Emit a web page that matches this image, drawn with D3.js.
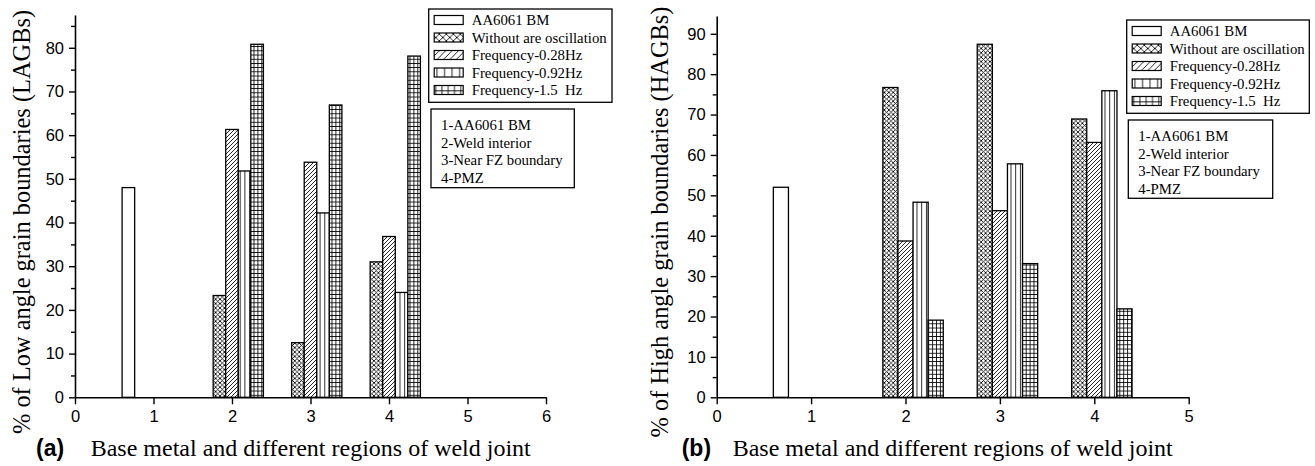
<!DOCTYPE html>
<html>
<head>
<meta charset="utf-8">
<script src="https://cdn.jsdelivr.net/npm/d3@7"></script>
<style>
  body { margin: 0; background: #fff; }
  svg { display: block; }
  .serif { font-family: "Liberation Serif", "Times New Roman", serif; }
  .sans { font-family: "Liberation Sans", Arial, sans-serif; }
</style>
</head>
<body>
<svg id="chart" width="1315" height="466"></svg>
<script>
// categories on the x axis and the five bar series
const REGIONS = [1, 2, 3, 4];
const SERIES = ["AA6061 BM", "Without are oscillation", "Frequency-0.28Hz", "Frequency-0.92Hz", "Frequency-1.5  Hz"];
const REGION_NOTES = ["1-AA6061 BM", "2-Weld interior", "3-Near FZ boundary", "4-PMZ"];

// (a) % of low angle grain boundaries, one value per region (null = no bar)
const lagbBM   = [48.0, null, null, null];
const lagbNoOsc = [null, 23.3, 12.5, 31.0];
const lagbF028 = [null, 61.3, 53.8, 36.8];
const lagbF092 = [null, 51.8, 42.2, 24.0];
const lagbF15  = [null, 80.8, 66.9, 78.1];

// (b) % of high angle grain boundaries
const hagbBM   = [52.0, null, null, null];
const hagbNoOsc = [null, 76.7, 87.4, 68.9];
const hagbF028 = [null, 38.7, 46.2, 63.1];
const hagbF092 = [null, 48.3, 57.8, 75.9];
const hagbF15  = [null, 19.1, 33.1, 21.9];

// axis ticks
const xTicksA = [0, 1, 2, 3, 4, 5, 6];
const xTicksB = [0, 1, 2, 3, 4, 5];
const yTicksA = [0, 10, 20, 30, 40, 50, 60, 70, 80];
const yTicksB = [0, 10, 20, 30, 40, 50, 60, 70, 80, 90];

const PATTERNS = ["p-empty", "p-cross", "p-diag", "p-vert", "p-grid"];
const GROUP_W = 0.8;               // group spans region-0.4 .. region+0.4
const BAR_W = GROUP_W / SERIES.length;

const svg = d3.select("#chart");
const defs = svg.append("defs");

function makePattern(id, w, h, scale, paint) {
  const p = defs.append("pattern")
    .attr("id", id)
    .attr("patternUnits", "userSpaceOnUse")
    .attr("width", w).attr("height", h);
  if (scale !== 1) p.attr("patternTransform", `scale(${scale})`);
  p.append("rect").attr("width", w).attr("height", h).attr("fill", "#fff");
  paint(p);
}
function buildPatterns(suffix, scale) {
  const sw = 0.85 / scale;
  makePattern("p-empty" + suffix, 4, 4, scale, () => {});
  makePattern("p-cross" + suffix, 4.4, 4.4, scale, p => p.append("path")
    .attr("d", "M-1,-1L5.4,5.4M-1,5.4L5.4,-1")
    .attr("stroke", "#000").attr("stroke-width", sw));
  makePattern("p-diag" + suffix, 4, 4, scale, p => p.append("path")
    .attr("d", "M-1,5L5,-1M-1,1L1,-1M3,5L5,3")
    .attr("stroke", "#000").attr("stroke-width", sw));
  makePattern("p-vert" + suffix, 4.7, 4, scale, p => p.append("path")
    .attr("d", "M0.5,0V4")
    .attr("stroke", "#000").attr("stroke-width", sw));
  makePattern("p-grid" + suffix, 3.9, 4.2, scale, p => p.append("path")
    .attr("d", "M0.5,0V4.2M0,0.5H3.9")
    .attr("stroke", "#000").attr("stroke-width", sw));
}
buildPatterns("", 1);
buildPatterns("-lg", 1.6);

const panels = [
  {
    tag: "(a)", values: [lagbBM, lagbNoOsc, lagbF028, lagbF092, lagbF15],
    xTicks: xTicksA, yTicks: yTicksA, yMax: 87.5,
    left: 75, right: 546, top: 15, bottom: 397.3,
    yTitle: "% of Low angle grain boundaries (LAGBs)", yTitleX: 30,
    tagX: 36, titleX: 90.7,
    legend: { x: 428.7, y: 9, w: 183.3, h: 93.3 },
    notes: { x: 431, y: 109, w: 143.3, h: 78.7 }
  },
  {
    tag: "(b)", values: [hagbBM, hagbNoOsc, hagbF028, hagbF092, hagbF15],
    xTicks: xTicksB, yTicks: yTicksB, yMax: 94.4,
    left: 716.7, right: 1188.7, top: 16, bottom: 397.3,
    yTitle: "% of High angle grain boundaries (HAGBs)", yTitleX: 668,
    tagX: 681.7, titleX: 732.7,
    legend: { x: 1126.7, y: 20, w: 182.6, h: 93.3 },
    notes: { x: 1128.3, y: 120, w: 144.4, h: 78.3 }
  }
];

panels.forEach(drawPanel);

function drawPanel(cfg) {
  const g = svg.append("g");
  const xMax = cfg.xTicks[cfg.xTicks.length - 1];
  const x = d3.scaleLinear().domain([0, xMax]).range([cfg.left, cfg.right]);
  const y = d3.scaleLinear().domain([0, cfg.yMax]).range([cfg.bottom, cfg.top]);

  // bars
  const bars = [];
  cfg.values.forEach((arr, si) => arr.forEach((v, ri) => {
    if (v == null) return;
    bars.push({ s: si, region: REGIONS[ri], v });
  }));
  g.append("g").selectAll("rect")
    .data(bars)
    .join("rect")
    .attr("x", d => x(d.region - GROUP_W / 2 + BAR_W * d.s))
    .attr("width", d => x(d.region - GROUP_W / 2 + BAR_W * (d.s + 1)) - x(d.region - GROUP_W / 2 + BAR_W * d.s))
    .attr("y", d => y(d.v))
    .attr("height", d => y(0) - y(d.v))
    .attr("fill", d => `url(#${PATTERNS[d.s]})`)
    .attr("stroke", "#000")
    .attr("stroke-width", 1.3);

  // minor y ticks
  const minor = d3.range(5, cfg.yMax, 10);
  g.append("g")
    .attr("transform", `translate(${cfg.left},0)`)
    .call(d3.axisLeft(y).tickValues(minor).tickSize(4).tickSizeOuter(0).tickFormat(""))
    .call(a => a.select(".domain").remove())
    .call(a => a.selectAll("line").attr("stroke-width", 1.4));

  // y axis
  g.append("g")
    .attr("transform", `translate(${cfg.left},0)`)
    .call(d3.axisLeft(y).tickValues(cfg.yTicks).tickSize(6).tickSizeOuter(0).tickPadding(5))
    .call(a => a.select(".domain").attr("stroke-width", 1.6))
    .call(a => a.selectAll("line").attr("stroke-width", 1.4))
    .call(a => a.selectAll("text").attr("font-size", 16.5).attr("fill", "#000")
      .attr("font-family", '"Liberation Sans", Arial, sans-serif'));

  // x axis
  g.append("g")
    .attr("transform", `translate(0,${cfg.bottom})`)
    .call(d3.axisBottom(x).tickValues(cfg.xTicks).tickSize(7).tickSizeOuter(0).tickPadding(6).tickFormat(d3.format("d")))
    .call(a => a.select(".domain").attr("stroke-width", 1.6))
    .call(a => a.selectAll("line").attr("stroke-width", 1.4))
    .call(a => a.selectAll("text").attr("font-size", 16.5).attr("fill", "#000")
      .attr("font-family", '"Liberation Sans", Arial, sans-serif'));

  // y title
  g.append("text")
    .attr("class", "serif")
    .attr("transform", `translate(${cfg.yTitleX},222) rotate(-90)`)
    .attr("text-anchor", "middle")
    .attr("font-size", 24.4)
    .text(cfg.yTitle);

  // x title with panel tag
  g.append("text")
    .attr("class", "sans")
    .attr("x", cfg.tagX).attr("y", 456)
    .attr("font-size", 23).attr("font-weight", "bold")
    .text(cfg.tag);
  g.append("text")
    .attr("class", "serif")
    .attr("x", cfg.titleX).attr("y", 456)
    .attr("font-size", 24)
    .text("Base metal and different regions of weld joint");

  // series legend
  const L = cfg.legend;
  const leg = g.append("g").attr("class", "serif");
  leg.append("rect")
    .attr("x", L.x).attr("y", L.y).attr("width", L.w).attr("height", L.h)
    .attr("fill", "#fff").attr("stroke", "#000").attr("stroke-width", 1.3);
  const rows = leg.selectAll("g.row")
    .data(SERIES)
    .join("g")
    .attr("class", "row")
    .attr("transform", (d, i) => `translate(${L.x},${L.y + 11 + i * 17.5})`);
  rows.append("rect")
    .attr("x", 5.5).attr("y", -4.5).attr("width", 29).attr("height", 9)
    .attr("fill", (d, i) => `url(#${PATTERNS[i]}-lg)`)
    .attr("stroke", "#000").attr("stroke-width", 1.2);
  rows.append("text")
    .attr("x", 43).attr("y", 5)
    .attr("font-size", 14.8)
    .style("white-space", "pre")
    .text(d => d);

  // region notes box
  const N = cfg.notes;
  const notes = g.append("g").attr("class", "serif");
  notes.append("rect")
    .attr("x", N.x).attr("y", N.y).attr("width", N.w).attr("height", N.h)
    .attr("fill", "#fff").attr("stroke", "#000").attr("stroke-width", 1.3);
  notes.selectAll("text")
    .data(REGION_NOTES)
    .join("text")
    .attr("x", N.x + 10)
    .attr("y", (d, i) => N.y + 21 + i * 17.6)
    .attr("font-size", 14.8)
    .text(d => d);
}
</script>
</body>
</html>
